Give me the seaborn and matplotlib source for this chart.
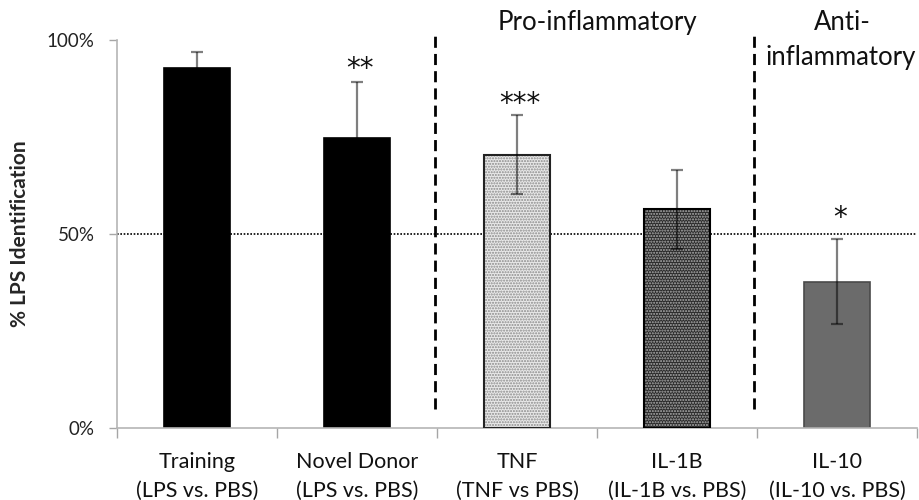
import matplotlib
matplotlib.use("Agg")
import matplotlib.pyplot as plt
import seaborn as sns
import pandas as pd
from matplotlib.patches import Rectangle

categories = ["Training\n(LPS vs. PBS)", "Novel Donor\n(LPS vs. PBS)", "TNF\n(TNF vs PBS)",
              "IL-1B\n(IL-1B vs. PBS)", "IL-10\n(IL-10 vs. PBS)"]
values = [92.7, 74.8, 70.4, 56.4, 37.7]
errors = [4.3, 14.4, 10.2, 10.2, 10.9]
stars = ["", "**", "***", "", "*"]
y_ticks = [0, 50, 100]
y_tick_labels = ["0%", "50%", "100%"]
chance_level = 50
group_labels = ["Pro-inflammatory", "Anti-", "inflammatory"]

sns.set_theme(style="white")
plt.rcParams["font.family"] = ["Lato", "DejaVu Sans"]

df = pd.DataFrame({"cat": categories, "val": values})
fig = plt.figure(figsize=(9.2, 5), dpi=100)
ax = fig.add_axes([0.127, 0.144, 0.870, 0.776])

sns.barplot(data=df, x="cat", y="val", ax=ax, width=0.41, color="black",
            saturation=1, errorbar=None, zorder=2)

faces = ["black", "black", "#e9e9e9", "#2a2a2a", "#6b6b6b"]
hatches = [None, None, "......", "......", None]
hatch_cols = ["black", "black", "#8a8a8a", "#b0b0b0", "#555555"]
borders = ["black", "black", "#222222", "black", "#4a4a4a"]
patches = list(ax.patches)
for p, fc, h, hc, bc in zip(patches, faces, hatches, hatch_cols, borders):
    p.set_facecolor(fc)
    p.set_linewidth(0 if h else 1.2)
    p.set_edgecolor(hc if h else bc)
    if h:
        p.set_hatch(h)
        ax.add_patch(Rectangle((p.get_x(), p.get_y()), p.get_width(), p.get_height(),
                               fill=False, edgecolor=bc, linewidth=1.5, zorder=3))

xs = [p.get_x() + p.get_width() / 2 for p in patches]
ax.errorbar(xs, values, yerr=errors, fmt="none", ecolor=(0, 0, 0, 0.5), elinewidth=1.6,
            capsize=4.5, capthick=1.6, zorder=4)

star_gap = [3.3, 3.3, 2.8, 3.3, 5.5]
for x, v, e, s, g in zip(xs, values, errors, stars, star_gap):
    if s:
        ax.text(x + 0.02, v + e + g, s, ha="center", va="center", fontsize=20,
                color="#111111", family="DejaVu Sans")

ax.axhline(chance_level, color="black", linestyle=(0, (1, 1)), linewidth=1.2, zorder=1)

for xd in [1.49, 3.48]:
    ax.plot([xd, xd], [5, 102], color="black", linestyle=(0, (4, 2.2)), linewidth=2,
            clip_on=False, zorder=5)

ax.text(2.5, 104.6, group_labels[0], ha="center", va="center", fontsize=18.5, color="#111111")
ax.text(4.03, 104.6, group_labels[1], ha="center", va="center", fontsize=18.5, color="#111111")
ax.text(4.02, 95.6, group_labels[2], ha="center", va="center", fontsize=18.5, color="#111111")

ax.set_ylim(0, 100)
ax.set_xlim(-0.5, 4.5)
ax.set_yticks(y_ticks)
ax.set_yticklabels(y_tick_labels, fontsize=13.5, color="#222222")
ax.set_xticks([i - 0.5 for i in range(len(categories) + 1)])
ax.set_xticklabels([])
ax.set_xticks(range(len(categories)), minor=True)
ax.set_xticklabels(categories, minor=True, fontsize=15.5, color="#111111", linespacing=1.55)
ax.tick_params(axis="x", which="major", length=7, color="#a6a6a6", width=1, direction="out",
               bottom=True)
ax.tick_params(axis="x", which="minor", length=0, pad=17)
ax.tick_params(axis="y", length=6, color="#a6a6a6", width=1, direction="out", left=True, pad=10)
ax.set_xlabel("")
ax.set_ylabel("% LPS Identification", fontsize=15, fontweight="bold", labelpad=12)

for side in ["top", "right"]:
    ax.spines[side].set_visible(False)
for side in ["left", "bottom"]:
    ax.spines[side].set_color("#b5b5b5")
    ax.spines[side].set_linewidth(1.2)

fig.savefig("out.png", dpi=100)
